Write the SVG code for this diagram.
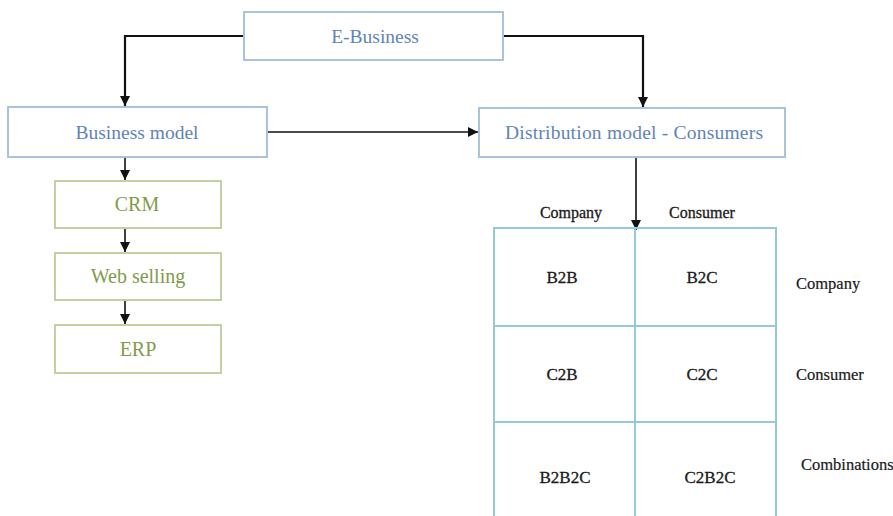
<svg xmlns="http://www.w3.org/2000/svg" width="893" height="516" viewBox="0 0 893 516">
  <style>
    .blue rect { fill: #ffffff; stroke: #a9c3de; stroke-width: 2; }
    .blue text { fill: #5f84b8; font-family: "Liberation Serif", serif; font-size: 19.5px; text-anchor: middle; }
    .green rect { fill: #ffffff; stroke: #c3d1a2; stroke-width: 2; }
    .green text { fill: #7f9c4a; font-family: "Liberation Serif", serif; font-size: 20px; text-anchor: middle; }
    .grid line, .grid rect { stroke: #93c9d9; stroke-width: 2; fill: none; }
    .lbl { fill: #1a1a1a; font-family: "Liberation Serif", serif; font-size: 16px; text-anchor: middle; stroke: #1a1a1a; stroke-width: 0.3; }
    .cell { font-size: 17px; }
    .side { fill: #1a1a1a; font-family: "Liberation Serif", serif; font-size: 16.5px; stroke: #1a1a1a; stroke-width: 0.2; }
    .conn path { fill: none; stroke: #111111; stroke-width: 1.6; }
  </style>
  <defs>
    <marker id="arrow" viewBox="0 0 10 10" refX="10" refY="5" markerWidth="11" markerHeight="10" orient="auto" markerUnits="userSpaceOnUse">
      <path d="M0,0 L10,5 L0,10 Z" fill="#111111"/>
    </marker>
  </defs>
  <rect width="893" height="516" fill="#ffffff"/>

  <!-- connectors -->
  <g id="connectors" class="conn">
    <path d="M244,36 H125 V106" style="stroke-width:2.2" marker-end="url(#arrow)"/>
    <path d="M503,36 H643 V107" style="stroke-width:2.2" marker-end="url(#arrow)"/>
    <path d="M267,132 H478" marker-end="url(#arrow)"/>
    <path d="M636,157 V230" marker-end="url(#arrow)"/>
    <path d="M125,157 V180" marker-end="url(#arrow)"/>
    <path d="M125,228 V252" marker-end="url(#arrow)"/>
    <path d="M125,300 V324" marker-end="url(#arrow)"/>
  </g>

  <g id="e-business" class="blue">
    <rect x="244" y="12" width="259" height="48"/>
    <text x="375" y="43">E-Business</text>
  </g>
  <g id="business-model" class="blue">
    <rect x="8" y="107" width="259" height="50"/>
    <text x="137" y="139">Business model</text>
  </g>
  <g id="distribution-model" class="blue">
    <rect x="479" y="108" width="306" height="49"/>
    <text x="634" y="139" textLength="258" lengthAdjust="spacing">Distribution model - Consumers</text>
  </g>

  <g id="crm" class="green">
    <rect x="55" y="181" width="166" height="47"/>
    <text x="137" y="211">CRM</text>
  </g>
  <g id="web-selling" class="green">
    <rect x="55" y="253" width="166" height="47"/>
    <text x="138" y="283">Web selling</text>
  </g>
  <g id="erp" class="green">
    <rect x="55" y="325" width="166" height="48"/>
    <text x="138" y="356">ERP</text>
  </g>

  <!-- business-model matrix -->
  <g id="matrix">
    <g class="grid">
      <rect x="494" y="228" width="282" height="300"/>
      <line x1="635" y1="228" x2="635" y2="516"/>
      <line x1="494" y1="326" x2="776" y2="326"/>
      <line x1="494" y1="422" x2="776" y2="422"/>
    </g>
    <text class="lbl" x="571" y="218">Company</text>
    <text class="lbl" x="702" y="218">Consumer</text>
    <text class="lbl cell" x="562" y="283">B2B</text>
    <text class="lbl cell" x="702" y="283">B2C</text>
    <text class="lbl cell" x="562" y="380">C2B</text>
    <text class="lbl cell" x="702" y="380">C2C</text>
    <text class="lbl cell" x="565" y="483">B2B2C</text>
    <text class="lbl cell" x="710" y="483">C2B2C</text>
    <text class="side" x="796" y="289">Company</text>
    <text class="side" x="796" y="380">Consumer</text>
    <text class="side" x="801" y="470">Combinations</text>
  </g>
</svg>
